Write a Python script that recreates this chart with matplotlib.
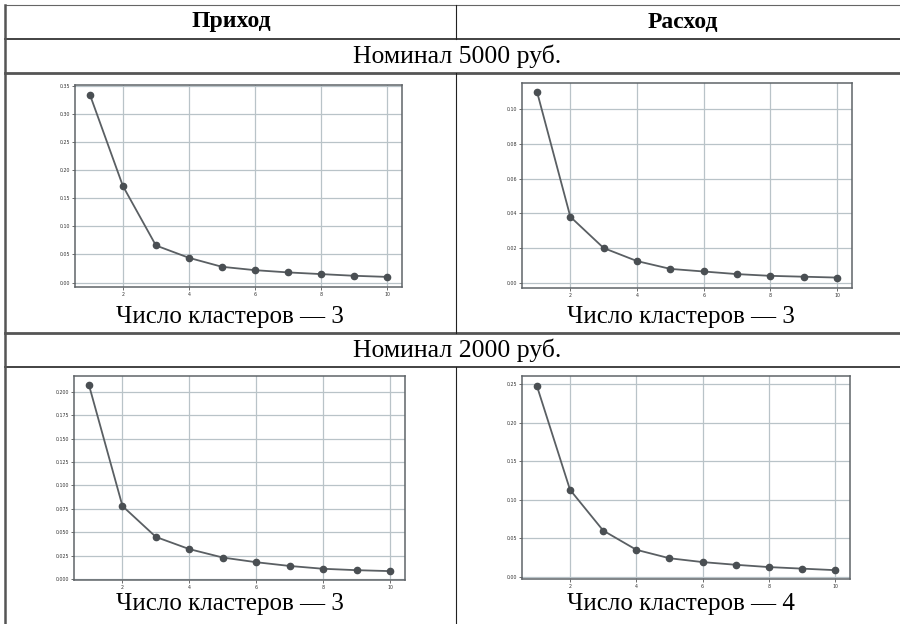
import matplotlib
matplotlib.use('Agg')
import matplotlib.pyplot as plt
from matplotlib.lines import Line2D

W, H = 900, 624

clusters = [1, 2, 3, 4, 5, 6, 7, 8, 9, 10]
income_5000 = [0.335, 0.172, 0.066, 0.044, 0.028, 0.022, 0.018, 0.015, 0.012, 0.010]
expense_5000 = [0.110, 0.038, 0.020, 0.0125, 0.008, 0.0065, 0.005, 0.004, 0.0035, 0.003]
income_2000 = [0.207, 0.078, 0.045, 0.032, 0.023, 0.018, 0.014, 0.011, 0.0095, 0.0085]
expense_2000 = [0.248, 0.113, 0.060, 0.035, 0.024, 0.019, 0.0155, 0.0125, 0.0105, 0.0085]

headers = ['Приход', 'Расход']
sections = ['Номинал 5000 руб.', 'Номинал 2000 руб.']
captions = ['Число кластеров — 3', 'Число кластеров — 3',
            'Число кластеров — 3', 'Число кластеров — 4']

fig = plt.figure(figsize=(W / 100, H / 100), dpi=100)
fig.patch.set_facecolor('white')

def fx(x):
    return x / W

def fy(y):
    return 1 - y / H

def hline(y, x0=5, x1=900, lw=1.0, color='#222222'):
    fig.add_artist(Line2D([fx(x0), fx(x1)], [fy(y), fy(y)], lw=lw, color=color))

def vline(x, y0, y1, lw=1.0, color='#222222'):
    fig.add_artist(Line2D([fx(x), fx(x)], [fy(y0), fy(y1)], lw=lw, color=color))

# table grid
hline(5, lw=0.8, color='#666666')
hline(39, lw=1.2)
hline(73, lw=2.0, color='#555555')
hline(333, lw=2.0, color='#555555')
hline(367, lw=1.2)
vline(5, 5, 624, lw=1.8, color='#555555')
vline(456, 5, 39, lw=0.8)
vline(456, 73, 333, lw=0.8)
vline(456, 367, 624, lw=0.8)

serif = ['Liberation Serif', 'DejaVu Serif']
fig.text(fx(231), fy(22), headers[0], ha='center', va='center', fontsize=17,
         fontweight='bold', family=serif)
fig.text(fx(683), fy(22), headers[1], ha='center', va='center', fontsize=17,
         fontweight='bold', family=serif)
fig.text(fx(457), fy(56), sections[0], ha='center', va='center', fontsize=18.5, family=serif)
fig.text(fx(457), fy(350), sections[1], ha='center', va='center', fontsize=18.5, family=serif)

cap_pos = [(230, 317), (681, 317), (230, 604), (681, 604)]
for (cx, cy), txt in zip(cap_pos, captions):
    fig.text(fx(cx), fy(cy), txt, ha='center', va='center', fontsize=18, family=serif)

# axes rects in pixels: left, top, right, bottom
rects = [(75, 85, 402, 287), (522, 83, 852, 288),
         (74, 376, 405, 580), (522, 376, 850, 579)]
series = [income_5000, expense_5000, income_2000, expense_2000]
ylims = [(-0.008, 0.352), (-0.003, 0.115), (-0.001, 0.217), (-0.003, 0.261)]
ysteps = [0.05, 0.02, 0.025, 0.05]

for (l, t, r, b), vals, yl, st in zip(rects, series, ylims, ysteps):
    ax = fig.add_axes([fx(l), fy(b), (r - l) / W, (b - t) / H])
    ax.plot(clusters, vals, color='#5a5f63', lw=1.3, marker='o', ms=4.5,
            markerfacecolor='#4a4f53', markeredgecolor='#4a4f53')
    ax.set_ylim(*yl)
    ax.set_xlim(0.55, 10.45)
    ax.set_xticks([2, 4, 6, 8, 10])
    n = int(yl[1] / st + 1e-9)
    ax.set_yticks([i * st for i in range(n + 1)])
    ax.grid(True, color='#b9c3c8', lw=0.9)
    ax.tick_params(labelsize=3.4, length=2, width=0.5, colors='#333333', pad=1.5)
    for s in ax.spines.values():
        s.set_color('#5f6468')
        s.set_linewidth(1.1)
    ax.set_axisbelow(True)

fig.savefig('out.png', dpi=100)
